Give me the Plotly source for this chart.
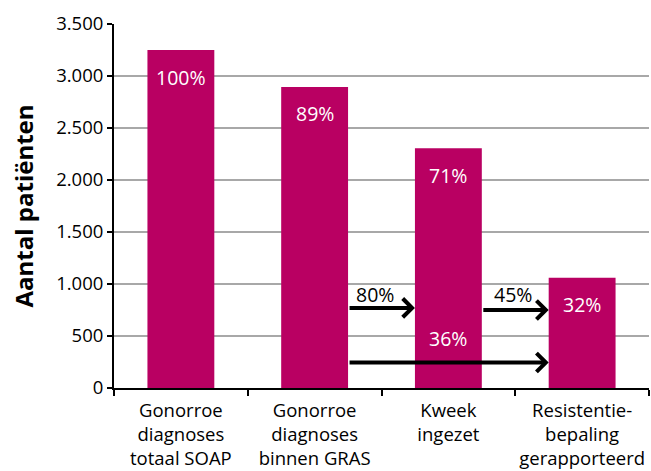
import plotly.graph_objects as go

categories = ["Gonorroe<br>diagnoses<br>totaal SOAP", "Gonorroe<br>diagnoses<br>binnen GRAS",
              "Kweek<br>ingezet", "Resistentie-<br>bepaling<br>gerapporteerd"]
values = [3250, 2895, 2305, 1060]
bar_labels = ["100%", "89%", "71%", "32%"]

# arrows: (tail category pos, head category pos, y value, label, label x, label y)
arrow_from = [1.25, 2.25, 1.25]
arrow_to = [1.75, 2.75, 2.75]
arrow_y = [770, 750, 245]
step_labels = ["80%", "45%", "36%"]
step_label_x = [1.45, 2.48, 2.0]
step_label_y = [895, 895, 480]
step_label_color = ["black", "black", "white"]

FONT = "Open Sans"
BAR = "#b90062"

fig = go.Figure()
fig.add_trace(go.Bar(x=categories, y=values, marker_color=BAR,
                     marker_line_width=0, width=0.5, hoverinfo="skip"))

anns = []
for i, (v, t) in enumerate(zip(values, bar_labels)):
    anns.append(dict(x=i, y=v, text=t, showarrow=False, yshift=-27, yanchor="middle",
                     font=dict(family=FONT, size=19.5, color="white")))
for a, b, yy in zip(arrow_from, arrow_to, arrow_y):
    anns.append(dict(x=b, y=yy, ax=a, ay=yy, axref="x", ayref="y", xref="x", yref="y",
                     text="", showarrow=True, arrowhead=4, arrowsize=0.9, arrowwidth=4,
                     arrowcolor="black", standoff=0, startstandoff=0))
for t, lx, ly, c in zip(step_labels, step_label_x, step_label_y, step_label_color):
    anns.append(dict(x=lx, y=ly, text=t, showarrow=False,
                     font=dict(family=FONT, size=19.5, color=c)))

fig.update_layout(
    width=651, height=471,
    margin=dict(l=114, r=2, t=24, b=83),
    paper_bgcolor="white", plot_bgcolor="white",
    showlegend=False, separators=",.",
    font=dict(family=FONT, size=18.5, color="black"),
    annotations=anns,
    xaxis=dict(type="category", tickson="boundaries", tickangle=0, automargin=False,
               range=[-0.5, 3.5], showline=True, linecolor="black", linewidth=2,
               ticks="outside", ticklen=6, tickwidth=2, tickcolor="black",
               ticklabelstandoff=5,
               showgrid=False, zeroline=False, tickfont=dict(family=FONT, size=18.5)),
    yaxis=dict(range=[0, 3500], dtick=500, tickformat=",d", showline=True, automargin=False,
               linecolor="black", linewidth=2, ticks="outside", ticklen=5, tickwidth=2,
               tickcolor="black", showgrid=True, gridcolor="#a8a8a8", gridwidth=2,
               zeroline=False, tickfont=dict(family=FONT, size=18.5),
               title=dict(text="<b>Aantal patiënten</b>", font=dict(family=FONT, size=24),
                          standoff=16)),
)
fig.write_html("out.html")
